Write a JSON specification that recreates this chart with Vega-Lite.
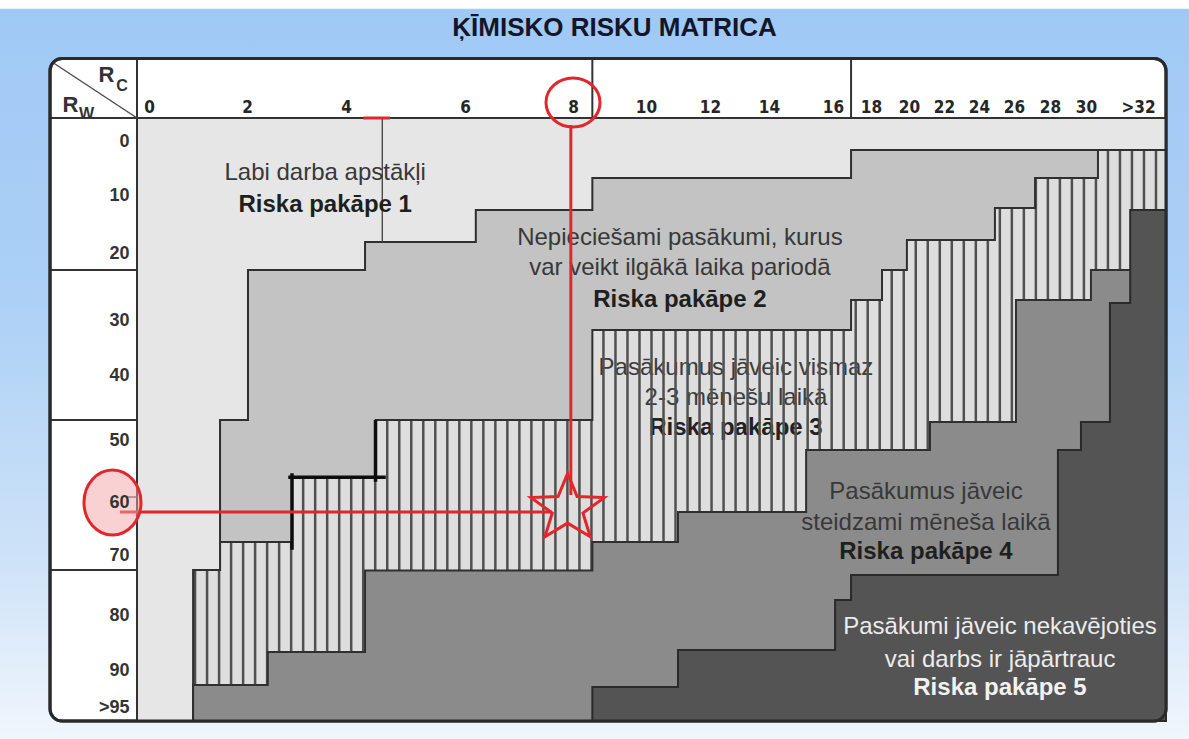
{
  "$schema": "https://vega.github.io/schema/vega-lite/v6.json",
  "width": 1029,
  "height": 603,
  "autosize": {"type": "none"},
  "padding": {"left": 137, "top": 118, "right": 23, "bottom": 18},
  "background": "#ffffff",
  "config": {"view": {"stroke": null}},
  "datasets": {
    "panels": [
      {"part": "canvas", "x": -3, "x2": 34, "y": -20, "y2": 100},
      {"part": "frame", "x": -1.96, "x2": 33, "y": -14.91, "y2": 97},
      {"part": "matrix", "x": -0.25, "x2": 33, "y": -4.3, "y2": 97}
    ],
    "hatch": [
      {"h": 0}, {"h": 1}, {"h": 2}, {"h": 3}, {"h": 4}, {"h": 5}, {"h": 6}, {"h": 7}, {"h": 8}, {"h": 9},
      {"h": 10}, {"h": 11}, {"h": 12}, {"h": 13}, {"h": 14}, {"h": 15}, {"h": 16}, {"h": 17}, {"h": 18}, {"h": 19},
      {"h": 20}, {"h": 21}, {"h": 22}, {"h": 23}, {"h": 24}, {"h": 25}, {"h": 26}, {"h": 27}, {"h": 28}, {"h": 29},
      {"h": 30}, {"h": 31}, {"h": 32}, {"h": 33}, {"h": 34}, {"h": 35}, {"h": 36}, {"h": 37}, {"h": 38}, {"h": 39},
      {"h": 40}, {"h": 41}, {"h": 42}, {"h": 43}, {"h": 44}, {"h": 45}, {"h": 46}, {"h": 47}, {"h": 48}, {"h": 49},
      {"h": 50}, {"h": 51}, {"h": 52}, {"h": 53}, {"h": 54}, {"h": 55}, {"h": 56}, {"h": 57}, {"h": 58}, {"h": 59},
      {"h": 60}, {"h": 61}, {"h": 62}, {"h": 63}, {"h": 64}, {"h": 65}, {"h": 66}, {"h": 67}, {"h": 68}, {"h": 69},
      {"h": 70}, {"h": 71}, {"h": 72}, {"h": 73}, {"h": 74}, {"h": 75}, {"h": 76}, {"h": 77}, {"h": 78}, {"h": 79},
      {"h": 80}
    ],
    "bounds": [
      {"b": "b12", "x": -0.25, "y": 97},
      {"b": "b12", "x": 0.9, "y": 72.5},
      {"b": "b12", "x": 1.45, "y": 46.92},
      {"b": "b12", "x": 2.02, "y": 22.54},
      {"b": "b12", "x": 4.32, "y": 18.1},
      {"b": "b12", "x": 6.2, "y": 12.59},
      {"b": "b12", "x": 8.53, "y": 6.85},
      {"b": "b12", "x": 16.95, "y": 1.67},
      {"b": "b12", "x": 33, "y": 1.67},
      {"b": "b23", "x": -0.25, "y": 97},
      {"b": "b23", "x": 0.9, "y": 72.5},
      {"b": "b23", "x": 1.45, "y": 67.55},
      {"b": "b23", "x": 2.91, "y": 56.13},
      {"b": "b23", "x": 4.5, "y": 46.92},
      {"b": "b23", "x": 8.53, "y": 31.82},
      {"b": "b23", "x": 16.95, "y": 27.01},
      {"b": "b23", "x": 18.58, "y": 22.54},
      {"b": "b23", "x": 19.89, "y": 17.76},
      {"b": "b23", "x": 24.91, "y": 12.24},
      {"b": "b23", "x": 27.17, "y": 6.85},
      {"b": "b23", "x": 30.46, "y": 1.67},
      {"b": "b23", "x": 33, "y": 1.67},
      {"b": "b34", "x": 0.9, "y": 92.03},
      {"b": "b34", "x": 2.42, "y": 86.73},
      {"b": "b34", "x": 4.32, "y": 72.6},
      {"b": "b34", "x": 8.53, "y": 67.55},
      {"b": "b34", "x": 11.0, "y": 61.89},
      {"b": "b34", "x": 15.16, "y": 51.61},
      {"b": "b34", "x": 21.2, "y": 47.23},
      {"b": "b34", "x": 26.11, "y": 27.01},
      {"b": "b34", "x": 30.19, "y": 22.54},
      {"b": "b34", "x": 33, "y": 22.54},
      {"b": "b45", "x": 8.53, "y": 92.3},
      {"b": "b45", "x": 11.0, "y": 86.36},
      {"b": "b45", "x": 16.11, "y": 77.5},
      {"b": "b45", "x": 16.95, "y": 73.33},
      {"b": "b45", "x": 28.44, "y": 51.61},
      {"b": "b45", "x": 29.72, "y": 47.23},
      {"b": "b45", "x": 30.92, "y": 27.46},
      {"b": "b45", "x": 31.7, "y": 12.59},
      {"b": "b45", "x": 33, "y": 12.59}
    ],
    "lines": [
      {"kind": "grid", "x": -1.96, "x2": 33, "y": -4.3, "y2": -4.3},
      {"kind": "grid", "x": -0.25, "x2": -0.25, "y": -14.91, "y2": 97},
      {"kind": "grid", "x": 8.53, "x2": 8.53, "y": -14.91, "y2": -4.3},
      {"kind": "grid", "x": 16.95, "x2": 16.95, "y": -14.91, "y2": -4.3},
      {"kind": "grid", "x": -1.96, "x2": -0.25, "y": 22.54, "y2": 22.54},
      {"kind": "grid", "x": -1.96, "x2": -0.25, "y": 46.92, "y2": 46.92},
      {"kind": "grid", "x": -1.96, "x2": -0.25, "y": 72.5, "y2": 72.5},
      {"kind": "thin", "x": -1.921, "x2": -0.25, "y": -14.29, "y2": -4.3},
      {"kind": "thin", "x": 4.61, "x2": 4.61, "y": -4.3, "y2": 18.1},
      {"kind": "thin", "x": -0.466, "x2": -0.25, "y": 59.2, "y2": 59.2},
      {"kind": "marker", "x": 4.496, "x2": 4.496, "y": 47.18, "y2": 56.45},
      {"kind": "marker", "x": 2.869, "x2": 4.639, "y": 56.02, "y2": 56.02},
      {"kind": "marker", "x": 2.909, "x2": 2.909, "y": 55.65, "y2": 68.68},
      {"kind": "red", "x": 7.96, "x2": 7.96, "y": -2.99, "y2": 58.87},
      {"kind": "red", "x": -0.584, "x2": 7.61, "y": 61.89, "y2": 61.89},
      {"kind": "red", "x": 4.29, "x2": 4.74, "y": -4.3, "y2": -4.3}
    ],
    "labels": [
      {"zone": 1, "kind": "desc", "text": "Labi darba apstākļi", "x": 3.58, "y": 5.93},
      {"zone": 1, "kind": "level", "text": "Riska pakāpe 1", "x": 3.58, "y": 11.72},
      {"zone": 2, "kind": "desc", "text": "Nepieciešami pasākumi, kurus", "x": 11.06, "y": 17.41},
      {"zone": 2, "kind": "desc", "text": "var veikt ilgākā laika pariodā", "x": 11.06, "y": 22.24},
      {"zone": 2, "kind": "level", "text": "Riska pakāpe 2", "x": 11.06, "y": 27.01},
      {"zone": 3, "kind": "desc", "text": "Pasākumus jāveic vismaz", "x": 12.88, "y": 38.73},
      {"zone": 3, "kind": "desc", "text": "2-3 mēnešu laikā", "x": 12.88, "y": 43.54},
      {"zone": 3, "kind": "level", "text": "Riska pakāpe 3", "x": 12.88, "y": 48.15},
      {"zone": 4, "kind": "desc", "text": "Pasākumus jāveic", "x": 20.97, "y": 58.39},
      {"zone": 4, "kind": "desc", "text": "steidzami mēneša laikā", "x": 20.97, "y": 63.96},
      {"zone": 4, "kind": "level", "text": "Riska pakāpe 4", "x": 20.97, "y": 69.43},
      {"zone": 5, "kind": "desc", "text": "Pasākumi jāveic nekavējoties", "x": 25.2, "y": 82.18},
      {"zone": 5, "kind": "desc", "text": "vai darbs ir jāpārtrauc", "x": 25.2, "y": 88.18},
      {"zone": 5, "kind": "level", "text": "Riska pakāpe 5", "x": 25.2, "y": 92.43}
    ],
    "corner": [
      {"t": "R", "role": "main", "x": -0.85, "y": -11.97},
      {"t": "C", "role": "sub", "x": -0.545, "y": -10.01},
      {"t": "R", "role": "main", "x": -1.558, "y": -6.62},
      {"t": "W", "role": "sub", "x": -1.243, "y": -5.01}
    ],
    "heading": [
      {"t": "ĶĪMISKO RISKU MATRICA", "x": 9.137, "y": -17.59}
    ],
    "marks": [
      {"m": "ring8", "x": 8.0, "y": -7.06},
      {"m": "ring60", "x": -0.732, "y": 60.09},
      {"m": "star", "x": 7.9, "y": 61.21}
    ]
  },
  "layer": [
    {
      "encoding": {
        "x": {"field": "x", "type": "quantitative", "axis": null,
          "scale": {"type": "linear", "domain": [-3, -2, -0.25, 0, 2, 4, 6, 8, 10, 12, 14, 16, 18, 20, 22, 24, 26, 28, 30, 32, 33, 34], "range": [-137, -89, 0, 12, 110, 209, 328, 436, 509, 573, 632, 696, 734, 772, 807, 842, 877, 913, 949, 1001, 1029, 1052], "nice": false, "zero": false}},
        "y": {"field": "y", "type": "quantitative", "axis": null,
          "scale": {"type": "linear", "domain": [-20, -15, -4.3, 0, 10, 20, 30, 40, 50, 60, 70, 80, 90, 95, 97, 100], "range": [-118, -60, 0, 23, 77, 135, 202, 257, 322, 384, 437, 497, 552, 589, 603, 621], "nice": false, "zero": false}}
      },
      "layer": [
        {
          "data": {"name": "panels"},
          "transform": [{"filter": "datum.part == 'canvas'"}],
          "mark": {"type": "rect", "fill": {"gradient": "linear", "x1": 0, "y1": 0, "x2": 0, "y2": 1, "stops": [
            {"offset": 0, "color": "#ffffff"}, {"offset": 0.011, "color": "#ffffff"}, {"offset": 0.013, "color": "#9fc9f5"},
            {"offset": 0.4, "color": "#acd0f6"}, {"offset": 0.75, "color": "#cde2f8"}, {"offset": 1, "color": "#f0f6fd"}]}},
          "encoding": {"x2": {"field": "x2"}, "y2": {"field": "y2"}}
        },
        {
          "data": {"name": "panels"},
          "transform": [{"filter": "datum.part == 'frame'"}],
          "mark": {"type": "rect", "fill": "#ffffff", "stroke": "#2a2a2a", "strokeWidth": 3, "cornerRadius": 12},
          "encoding": {"x2": {"field": "x2"}, "y2": {"field": "y2"}}
        },
        {
          "data": {"name": "panels"},
          "transform": [{"filter": "datum.part == 'matrix'"}],
          "mark": {"type": "rect", "fill": "#dedede"},
          "encoding": {"x2": {"field": "x2"}, "y2": {"field": "y2"}}
        },
        {
          "data": {"name": "labels"},
          "transform": [{"filter": "datum.zone == 3 && datum.kind == 'desc'"}],
          "mark": {"type": "text", "font": "Liberation Sans", "fontSize": 24, "color": "#3c3c3c", "align": "center", "baseline": "middle"},
          "encoding": {"text": {"field": "text"}}
        },
        {
          "data": {"name": "labels"},
          "transform": [{"filter": "datum.zone == 3 && datum.kind == 'level'"}],
          "mark": {"type": "text", "font": "Liberation Sans", "fontSize": 24, "fontWeight": "bold", "color": "#222222", "align": "center", "baseline": "middle"},
          "encoding": {"text": {"field": "text"}}
        }
      ]
    },
    {
      "data": {"name": "hatch"},
      "mark": {"type": "rule", "stroke": "#505050", "strokeWidth": 2.5},
      "encoding": {
        "x": {"field": "h", "type": "quantitative", "axis": null, "scale": {"domain": [-4.8333, 80.8333], "nice": false, "zero": false}},
        "y": {"datum": 1.67, "type": "quantitative", "axis": null,
          "scale": {"type": "linear", "domain": [-20, -15, -4.3, 0, 10, 20, 30, 40, 50, 60, 70, 80, 90, 95, 97, 100], "range": [-118, -60, 0, 23, 77, 135, 202, 257, 322, 384, 437, 497, 552, 589, 603, 621], "nice": false, "zero": false}},
        "y2": {"datum": 97}
      }
    },
    {
      "encoding": {
        "x": {"field": "x", "type": "quantitative",
          "scale": {"type": "linear", "domain": [-3, -2, -0.25, 0, 2, 4, 6, 8, 10, 12, 14, 16, 18, 20, 22, 24, 26, 28, 30, 32, 33, 34], "range": [-137, -89, 0, 12, 110, 209, 328, 436, 509, 573, 632, 696, 734, 772, 807, 842, 877, 913, 949, 1001, 1029, 1052], "nice": false, "zero": false},
          "axis": {"orient": "top", "values": [0, 2, 4, 6, 8, 10, 12, 14, 16, 18, 20, 22, 24, 26, 28, 30, 32], "labelExpr": "datum.value == 32 ? '>32' : datum.label", "domain": false, "ticks": false, "tickSize": 0, "grid": false, "title": null, "labelFont": "Liberation Sans Narrow, DejaVu Sans Condensed, Liberation Sans", "labelFontSize": 17, "labelFontWeight": "bold", "labelColor": "#262626", "labelPadding": 6, "labelBaseline": "alphabetic", "labelOverlap": false, "labelFlush": false, "zindex": 1}},
        "y": {"field": "y", "type": "quantitative",
          "scale": {"type": "linear", "domain": [-20, -15, -4.3, 0, 10, 20, 30, 40, 50, 60, 70, 80, 90, 95, 97, 100], "range": [-118, -60, 0, 23, 77, 135, 202, 257, 322, 384, 437, 497, 552, 589, 603, 621], "nice": false, "zero": false},
          "axis": {"orient": "left", "values": [0, 10, 20, 30, 40, 50, 60, 70, 80, 90, 95], "labelExpr": "datum.value == 95 ? '>95' : datum.label", "domain": false, "ticks": false, "tickSize": 0, "grid": false, "title": null, "labelFont": "Liberation Sans", "labelFontSize": 18, "labelFontWeight": "bold", "labelColor": "#333333", "labelPadding": 8, "labelAlign": "right", "labelBaseline": "middle", "labelOverlap": false, "labelFlush": false, "zindex": 1}}
      },
      "layer": [
        {
          "data": {"name": "bounds"},
          "transform": [{"filter": "datum.b == 'b23'"}],
          "mark": {"type": "area", "interpolate": "step-after", "orient": "vertical", "fill": "#c3c3c3", "stroke": "#2f2f2f", "strokeWidth": 2, "strokeJoin": "miter"},
          "encoding": {"y2": {"datum": -4.3}}
        },
        {
          "data": {"name": "bounds"},
          "transform": [{"filter": "datum.b == 'b12'"}],
          "mark": {"type": "area", "interpolate": "step-after", "orient": "vertical", "fill": "#e6e6e6", "stroke": "#2f2f2f", "strokeWidth": 2, "strokeJoin": "miter"},
          "encoding": {"y2": {"datum": -4.3}}
        },
        {
          "data": {"name": "bounds"},
          "transform": [{"filter": "datum.b == 'b34'"}],
          "mark": {"type": "area", "interpolate": "step-after", "orient": "vertical", "fill": "#8b8b8b", "stroke": "#2f2f2f", "strokeWidth": 2, "strokeJoin": "miter"},
          "encoding": {"y2": {"datum": 97}}
        },
        {
          "data": {"name": "bounds"},
          "transform": [{"filter": "datum.b == 'b45'"}],
          "mark": {"type": "area", "interpolate": "step-after", "orient": "vertical", "fill": "#545454", "stroke": "#2a2a2a", "strokeWidth": 2, "strokeJoin": "miter"},
          "encoding": {"y2": {"datum": 97}}
        },
        {
          "data": {"name": "lines"},
          "transform": [{"filter": "datum.kind == 'grid'"}],
          "mark": {"type": "rule", "stroke": "#333333", "strokeWidth": 2},
          "encoding": {"x2": {"field": "x2"}, "y2": {"field": "y2"}}
        },
        {
          "data": {"name": "lines"},
          "transform": [{"filter": "datum.kind == 'thin'"}],
          "mark": {"type": "rule", "stroke": "#4a4a4a", "strokeWidth": 1.4},
          "encoding": {"x2": {"field": "x2"}, "y2": {"field": "y2"}}
        },
        {
          "data": {"name": "labels"},
          "transform": [{"filter": "datum.zone != 3 && datum.zone != 5 && datum.kind == 'desc'"}],
          "mark": {"type": "text", "font": "Liberation Sans", "fontSize": 24, "color": "#383838", "align": "center", "baseline": "middle"},
          "encoding": {"text": {"field": "text"}}
        },
        {
          "data": {"name": "labels"},
          "transform": [{"filter": "datum.zone != 3 && datum.zone != 5 && datum.kind == 'level'"}],
          "mark": {"type": "text", "font": "Liberation Sans", "fontSize": 24, "fontWeight": "bold", "color": "#1f1f1f", "align": "center", "baseline": "middle"},
          "encoding": {"text": {"field": "text"}}
        },
        {
          "data": {"name": "labels"},
          "transform": [{"filter": "datum.zone == 5 && datum.kind == 'desc'"}],
          "mark": {"type": "text", "font": "Liberation Sans", "fontSize": 24, "color": "#ececec", "align": "center", "baseline": "middle"},
          "encoding": {"text": {"field": "text"}}
        },
        {
          "data": {"name": "labels"},
          "transform": [{"filter": "datum.zone == 5 && datum.kind == 'level'"}],
          "mark": {"type": "text", "font": "Liberation Sans", "fontSize": 24, "fontWeight": "bold", "color": "#f2f2f2", "align": "center", "baseline": "middle"},
          "encoding": {"text": {"field": "text"}}
        },
        {
          "data": {"name": "corner"},
          "transform": [{"filter": "datum.role == 'main'"}],
          "mark": {"type": "text", "font": "Liberation Sans", "fontSize": 22, "fontWeight": "bold", "color": "#333333", "align": "center", "baseline": "middle"},
          "encoding": {"text": {"field": "t"}}
        },
        {
          "data": {"name": "corner"},
          "transform": [{"filter": "datum.role == 'sub'"}],
          "mark": {"type": "text", "font": "Liberation Sans", "fontSize": 16, "fontWeight": "bold", "color": "#333333", "align": "center", "baseline": "middle"},
          "encoding": {"text": {"field": "t"}}
        },
        {
          "data": {"name": "heading"},
          "mark": {"type": "text", "font": "Liberation Sans", "fontSize": 26, "fontWeight": "bold", "color": "#15152a", "align": "center", "baseline": "middle"},
          "encoding": {"text": {"field": "t"}}
        },
        {
          "data": {"name": "lines"},
          "transform": [{"filter": "datum.kind == 'marker'"}],
          "mark": {"type": "rule", "stroke": "#0d0d0d", "strokeWidth": 3.5, "strokeCap": "square"},
          "encoding": {"x2": {"field": "x2"}, "y2": {"field": "y2"}}
        },
        {
          "data": {"name": "lines"},
          "transform": [{"filter": "datum.kind == 'red'"}],
          "mark": {"type": "rule", "stroke": "#e3262b", "strokeWidth": 3},
          "encoding": {"x2": {"field": "x2"}, "y2": {"field": "y2"}}
        },
        {
          "data": {"name": "marks"},
          "transform": [{"filter": "datum.m == 'ring60'"}],
          "mark": {"type": "point", "shape": "M0.877,0C0.877,0.552 0.484,1 0,1C-0.484,1 -0.877,0.552 -0.877,0C-0.877,-0.552 -0.484,-1 0,-1C0.484,-1 0.877,-0.552 0.877,0Z", "size": 4225, "filled": true, "fill": "#f3a3a5", "fillOpacity": 0.5, "stroke": "#e3262b", "strokeWidth": 3, "opacity": 1}
        },
        {
          "data": {"name": "marks"},
          "transform": [{"filter": "datum.m == 'ring8'"}],
          "mark": {"type": "point", "shape": "M1,0C1,0.501 0.552,0.907 0,0.907C-0.552,0.907 -1,0.501 -1,0C-1,-0.501 -0.552,-0.907 0,-0.907C0.552,-0.907 1,-0.501 1,0Z", "size": 2916, "filled": false, "stroke": "#e3262b", "strokeWidth": 3, "opacity": 1}
        },
        {
          "data": {"name": "marks"},
          "transform": [{"filter": "datum.m == 'star'"}],
          "mark": {"type": "point", "shape": "M0,-1L0.272,-0.34L1.046,-0.309L0.439,0.13L0.647,0.809L0,0.42L-0.647,0.809L-0.439,0.13L-1.046,-0.309L-0.272,-0.34Z", "size": 4900, "filled": false, "stroke": "#e3262b", "strokeWidth": 3, "opacity": 1}
        },
        {
          "data": {"name": "panels"},
          "transform": [{"filter": "datum.part == 'frame'"}],
          "mark": {"type": "rect", "fill": "#ffffff", "fillOpacity": 0, "stroke": "#2a2a2a", "strokeWidth": 3, "cornerRadius": 12},
          "encoding": {"x2": {"field": "x2"}, "y2": {"field": "y2"}}
        }
      ]
    }
  ],
  "resolve": {"scale": {"x": "independent", "y": "independent"}, "axis": {"x": "independent", "y": "independent"}}
}
